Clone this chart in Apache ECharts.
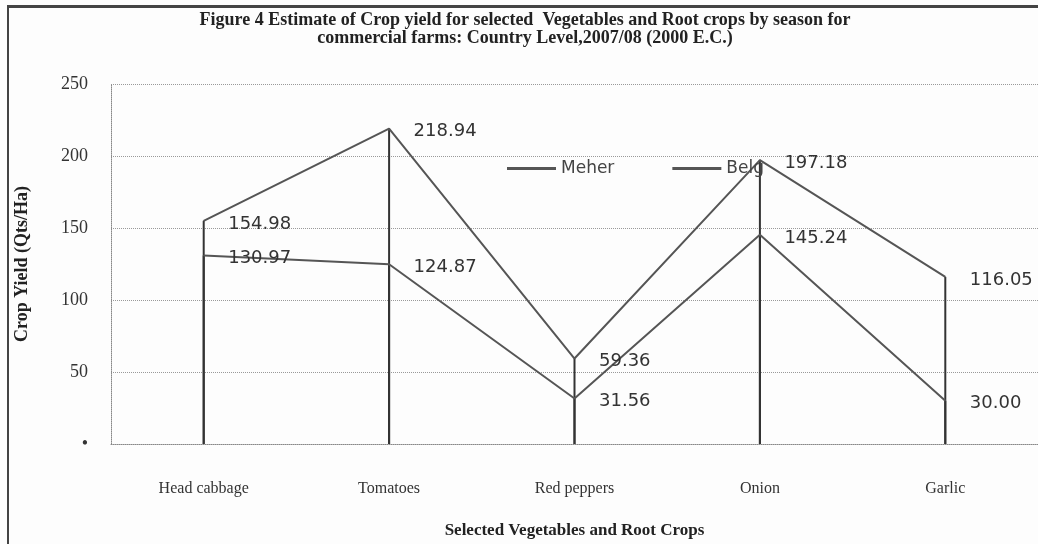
<!DOCTYPE html>
<html>
<head>
<meta charset="utf-8">
<script src="https://cdn.jsdelivr.net/npm/echarts@6/dist/echarts.min.js"></script>
<style>
  html, body { margin: 0; padding: 0; background: #fdfdfd; }
  #frame { position: absolute; left: 7px; top: 5px; width: 1040px; height: 545px;
           border-left: 2px solid #444; border-top: 3px solid #444; }
  #chart { position: absolute; left: 0; top: 0; width: 1038px; height: 544px; }
</style>
</head>
<body>
<div id="frame"></div>
<div id="chart"></div>
<script>
// values
var crops = ['Head cabbage', 'Tomatoes', 'Red peppers', 'Onion', 'Garlic']
var meher = [154.98, 218.94, 59.36, 197.18, 116.05]
var belg = [130.97, 124.87, 31.56, 145.24, 30.00]
var yTicks = [0, 50, 100, 150, 200, 250]

var chart = echarts.init(document.getElementById('chart'))

var serif = '"Liberation Serif", "DejaVu Serif", serif'
var sans = '"DejaVu Sans", "Liberation Sans", sans-serif'

var valueLabel = {
  show: true,
  position: 'right',
  distance: 24,
  offset: [0, 3],
  fontFamily: sans,
  fontSize: 18,
  color: '#333',
  formatter: function (p) { return p.value.toFixed(2) }
}

var option = {
  backgroundColor: 'transparent',
  animation: false,
  title: {
    text: 'Figure 4 Estimate of Crop yield for selected  Vegetables and Root crops by season for\ncommercial farms: Country Level,2007/08 (2000 E.C.)',
    left: 520,
    top: 6,
    textAlign: 'center',
    textStyle: {
      fontFamily: serif,
      fontWeight: 'bold',
      fontSize: 18,
      lineHeight: 18,
      color: '#222'
    }
  },
  legend: {
    left: 502,
    top: 155,
    itemWidth: 49,
    itemHeight: 3,
    itemGap: 58,
    icon: 'rect',
    textStyle: { fontFamily: sans, fontSize: 17, color: '#444' },
    data: ['Meher', 'Belg']
  },
  grid: {
    left: 111,
    right: 0,
    top: 84,
    bottom: 92
  },
  xAxis: {
    type: 'category',
    data: crops,
    boundaryGap: true,
    name: 'Selected Vegetables and Root Crops',
    nameLocation: 'middle',
    nameGap: 78,
    nameTextStyle: { fontFamily: serif, fontWeight: 'bold', fontSize: 17, color: '#222' },
    axisLine: { lineStyle: { color: '#888', type: 'dotted', width: 1 } },
    axisTick: { show: false },
    axisLabel: { fontFamily: serif, fontSize: 16, color: '#333', margin: 37 }
  },
  yAxis: {
    type: 'value',
    min: yTicks[0],
    max: yTicks[yTicks.length - 1],
    interval: yTicks[1] - yTicks[0],
    name: 'Crop Yield (Qts/Ha)',
    nameLocation: 'middle',
    nameRotate: 90,
    nameGap: 80,
    nameTextStyle: { fontFamily: serif, fontWeight: 'bold', fontSize: 18, color: '#222' },
    axisLine: { show: true, lineStyle: { color: '#888', type: 'dotted', width: 1 } },
    axisTick: { show: false },
    axisLabel: {
      fontFamily: serif,
      fontSize: 18,
      color: '#333',
      margin: 23,
      formatter: function (v) { return v === 0 ? '•' : v }
    },
    splitLine: { lineStyle: { color: '#999', type: 'dotted', width: 1 } }
  },
  series: [
    {
      name: 'Meher',
      type: 'line',
      data: meher,
      symbol: 'circle',
      symbolSize: 1,
      showSymbol: true,
      z: 3,
      lineStyle: { color: '#555', width: 2 },
      itemStyle: { color: '#555' },
      label: valueLabel
    },
    {
      name: 'Belg',
      type: 'line',
      data: belg,
      symbol: 'circle',
      symbolSize: 1,
      showSymbol: true,
      z: 3,
      lineStyle: { color: '#555', width: 2 },
      itemStyle: { color: '#555' },
      label: valueLabel
    },
    // drop lines from each point down to the category axis
    {
      name: 'dropMeher',
      type: 'bar',
      data: meher,
      barWidth: 2,
      barGap: '-100%',
      z: 2,
      itemStyle: { color: '#333' },
      silent: true
    },
    {
      name: 'dropBelg',
      type: 'bar',
      data: belg,
      barWidth: 2,
      barGap: '-100%',
      z: 2,
      itemStyle: { color: '#333' },
      silent: true
    }
  ]
}

chart.setOption(option)
</script>
</body>
</html>
